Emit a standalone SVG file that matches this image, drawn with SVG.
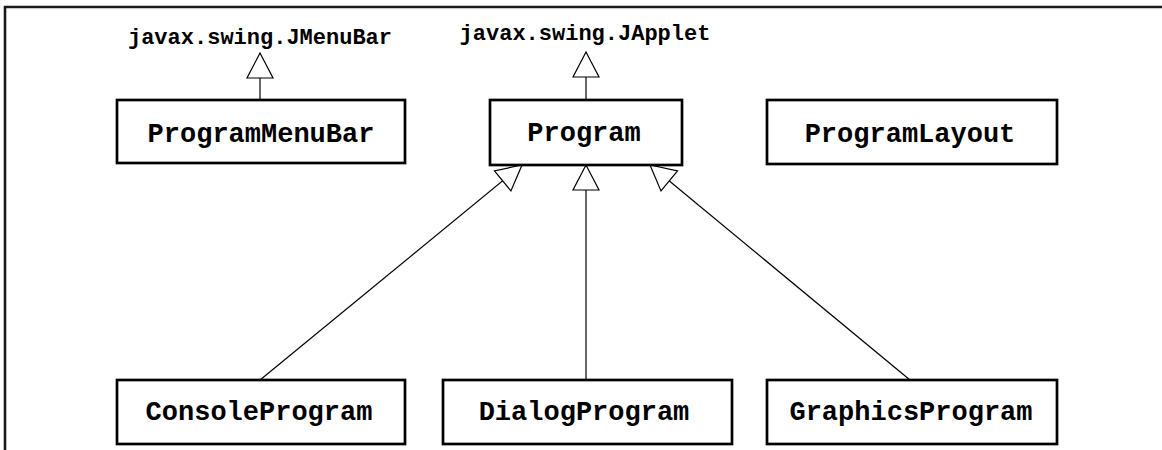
<svg xmlns="http://www.w3.org/2000/svg" width="1162" height="450" viewBox="0 0 1162 450">
  <style>
    .frame { fill: none; stroke: #1a1a1a; stroke-width: 2.6; }
    .box { fill: #ffffff; stroke: #000000; stroke-width: 2.7; }
    .cls { font-family: "Liberation Mono", "Courier New", monospace; font-weight: bold; font-size: 27px; fill: #000000; text-anchor: middle; }
    .ext { font-family: "Liberation Mono", "Courier New", monospace; font-weight: bold; font-size: 22px; fill: #000000; text-anchor: middle; }
    .edge { fill: none; stroke: #000000; stroke-width: 1.2; marker-end: url(#inherit); }
  </style>
  <defs>
    <!-- hollow triangle for generalization -->
    <marker id="inherit" viewBox="-27 -15 29 30" refX="0" refY="0" markerWidth="29" markerHeight="30" markerUnits="userSpaceOnUse" orient="auto">
      <path d="M0,0 L-25,-13 L-25,13 Z" fill="#ffffff" stroke="#000000" stroke-width="1.2"/>
    </marker>
  </defs>

  <rect width="1162" height="450" fill="#ffffff"/>
  <path class="frame" d="M5,450 V7 H1162"/>

  <g id="connectors">
    <path class="edge" d="M260,100 V53"/>
    <path class="edge" d="M586,100 V52"/>
    <path class="edge" d="M260,380 L522,165"/>
    <path class="edge" d="M586,380 V165"/>
    <path class="edge" d="M910,380 L650,165"/>
  </g>

  <g id="jmenubar">
    <text class="ext" x="260" y="44">javax.swing.JMenuBar</text>
  </g>
  <g id="japplet">
    <text class="ext" x="585" y="40">javax.swing.JApplet</text>
  </g>

  <g id="programmenubar">
    <rect class="box" x="117" y="100" width="288" height="63"/>
    <text class="cls" x="261" y="142">ProgramMenuBar</text>
  </g>
  <g id="program">
    <rect class="box" x="490" y="100" width="192" height="65"/>
    <text class="cls" x="584" y="141">Program</text>
  </g>
  <g id="programlayout">
    <rect class="box" x="767" y="100" width="290" height="64"/>
    <text class="cls" x="910" y="142">ProgramLayout</text>
  </g>
  <g id="consoleprogram">
    <rect class="box" x="117" y="380" width="288" height="64"/>
    <text class="cls" x="259" y="420">ConsoleProgram</text>
  </g>
  <g id="dialogprogram">
    <rect class="box" x="443" y="380" width="289" height="64"/>
    <text class="cls" x="584" y="420">DialogProgram</text>
  </g>
  <g id="graphicsprogram">
    <rect class="box" x="767" y="380" width="290" height="64"/>
    <text class="cls" x="911" y="420">GraphicsProgram</text>
  </g>
</svg>
